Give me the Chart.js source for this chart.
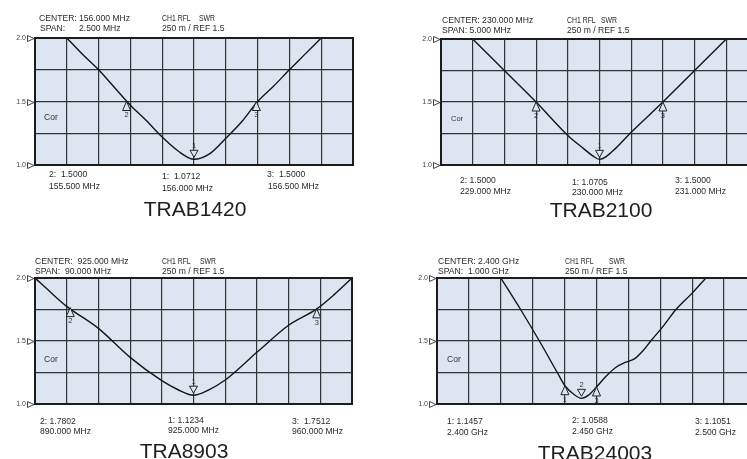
<!DOCTYPE html>
<html><head><meta charset="utf-8">
<script src="https://cdn.jsdelivr.net/npm/chart.js@4"></script>
<style>
html,body{margin:0;padding:0;background:#fff;overflow:hidden;width:747px;height:459px;}
body{position:relative;font-family:"Liberation Sans",Arial,Helvetica,sans-serif;color:#2a2a2a;}
canvas{position:absolute;}
.t{position:absolute;font-size:8.6px;line-height:10px;white-space:pre;z-index:2;}
.n{transform:scaleX(0.8);transform-origin:0 0;}
.c{position:absolute;font-size:8.6px;line-height:10px;white-space:pre;z-index:2;color:#333;}
.title{position:absolute;font-size:21px;line-height:21px;white-space:pre;transform:translateX(-50%);color:#1e1e1e;z-index:2;}
</style></head><body>

<!-- TRAB1420 -->
<div class="t" style="left:39px;top:13px">CENTER:</div><div class="t" style="left:79px;top:13px">156.000 MHz</div>
<div class="t" style="left:40px;top:23px">SPAN:</div><div class="t" style="left:79px;top:23px">2.500 MHz</div>
<div class="t n" style="left:162px;top:13px">CH1 RFL</div><div class="t n" style="left:199px;top:13px">SWR</div>
<div class="t" style="left:162px;top:23px">250 m / REF 1.5</div>
<div class="t" style="left:49px;top:169px">2:  1.5000</div><div class="t" style="left:49px;top:181px">155.500 MHz</div>
<div class="t" style="left:162px;top:171px">1:  1.0712</div><div class="t" style="left:162px;top:183px">156.000 MHz</div>
<div class="t" style="left:267px;top:169px">3:  1.5000</div><div class="t" style="left:268px;top:181px">156.500 MHz</div>
<div class="c" style="left:44px;top:112px">Cor</div>
<div class="title" style="left:195px;top:198px">TRAB1420</div>

<!-- TRAB2100 -->
<div class="t" style="left:442px;top:15px">CENTER: 230.000 MHz</div>
<div class="t" style="left:442px;top:25px">SPAN: 5.000 MHz</div>
<div class="t n" style="left:567px;top:15px">CH1 RFL</div><div class="t n" style="left:601px;top:15px">SWR</div>
<div class="t" style="left:567px;top:25px">250 m / REF 1.5</div>
<div class="t" style="left:460px;top:175px">2: 1.5000</div><div class="t" style="left:460px;top:186px">229.000 MHz</div>
<div class="t" style="left:572px;top:177px">1: 1.0705</div><div class="t" style="left:572px;top:187px">230.000 MHz</div>
<div class="t" style="left:675px;top:175px">3: 1.5000</div><div class="t" style="left:675px;top:186px">231.000 MHz</div>
<div class="c" style="left:451px;top:114px;font-size:7.5px">Cor</div>
<div class="title" style="left:601px;top:199px">TRAB2100</div>

<!-- TRA8903 -->
<div class="t" style="left:35px;top:256px">CENTER:  925.000 MHz</div>
<div class="t" style="left:35px;top:266px">SPAN:  90.000 MHz</div>
<div class="t n" style="left:162px;top:256px">CH1 RFL</div><div class="t n" style="left:200px;top:256px">SWR</div>
<div class="t" style="left:162px;top:266px">250 m / REF 1.5</div>
<div class="t" style="left:40px;top:416px">2: 1.7802</div><div class="t" style="left:40px;top:426px">890.000 MHz</div>
<div class="t" style="left:168px;top:415px">1: 1.1234</div><div class="t" style="left:168px;top:425px">925.000 MHz</div>
<div class="t" style="left:292px;top:416px">3:  1.7512</div><div class="t" style="left:292px;top:426px">960.000 MHz</div>
<div class="c" style="left:44px;top:354px">Cor</div>
<div class="title" style="left:184px;top:440px">TRA8903</div>

<!-- TRAB24003 -->
<div class="t" style="left:438px;top:256px">CENTER: 2.400 GHz</div>
<div class="t" style="left:438px;top:266px">SPAN:  1.000 GHz</div>
<div class="t n" style="left:565px;top:256px">CH1 RFL</div><div class="t n" style="left:609px;top:256px">SWR</div>
<div class="t" style="left:565px;top:266px">250 m / REF 1.5</div>
<div class="t" style="left:447px;top:416px">1: 1.1457</div><div class="t" style="left:447px;top:427px">2.400 GHz</div>
<div class="t" style="left:572px;top:415px">2: 1.0588</div><div class="t" style="left:572px;top:426px">2.450 GHz</div>
<div class="t" style="left:695px;top:416px">3: 1.1051</div><div class="t" style="left:695px;top:427px">2.500 GHz</div>
<div class="c" style="left:447px;top:354px">Cor</div>
<div class="title" style="left:595px;top:442px">TRAB24003</div>

<script>
// ---------- DATA ----------
const yTickValues = [1.0, 1.5, 2.0];
const yTickLabels = ['1.0', '1.5', '2.0'];

// TRAB1420 (MHz)
const trab1420Freq = [155.0, 155.125, 155.25, 155.375, 155.5, 155.625, 155.75, 155.875, 156.0, 156.125, 156.25, 156.375, 156.5, 156.625, 156.75, 156.875, 157.0];
const trab1420Swr  = [2.0, 1.87, 1.75, 1.61, 1.47, 1.35, 1.22, 1.11, 1.045, 1.09, 1.21, 1.34, 1.5, 1.62, 1.75, 1.875, 2.0];
const trab1420Span = [154.75, 157.25, 0.25];
const trab1420MarkerFreq = [155.47, 156.0, 156.49];
const trab1420MarkerSwr  = [1.5, 1.045, 1.5];
const trab1420MarkerNum  = ['2', '1', '3'];
const trab1420MarkerDir  = ['up', 'down', 'up'];

// TRAB2100 (MHz)
const trab2100Freq = [228.0, 228.5, 229.0, 229.5, 229.75, 229.9, 230.0, 230.1, 230.25, 230.5, 231.0, 231.5, 232.0];
const trab2100Swr  = [2.0, 1.75, 1.5, 1.235, 1.13, 1.07, 1.045, 1.065, 1.13, 1.26, 1.5, 1.75, 2.0];
const trab2100Span = [227.5, 232.5, 0.5];
const trab2100MarkerFreq = [229.0, 230.0, 231.0];
const trab2100MarkerSwr  = [1.5, 1.045, 1.5];
const trab2100MarkerNum  = ['2', '1', '3'];
const trab2100MarkerDir  = ['up', 'down', 'up'];

// TRA8903 (MHz)
const tra8903Freq = [880, 884.5, 889, 898, 907, 916, 920.5, 925, 929.5, 934, 943, 952, 960, 965, 970];
const tra8903Swr  = [2.0, 1.885, 1.775, 1.6, 1.37, 1.185, 1.115, 1.07, 1.115, 1.19, 1.41, 1.625, 1.755, 1.87, 2.0];
const tra8903Span = [880, 970, 9];
const tra8903MarkerFreq = [890, 925, 960];
const tra8903MarkerSwr  = [1.765, 1.07, 1.755];
const tra8903MarkerNum  = ['2', '1', '3'];
const tra8903MarkerDir  = ['up', 'down', 'up'];

// TRAB24003 (GHz)
const trab24003Freq = [2.1, 2.162, 2.221, 2.277, 2.301, 2.33, 2.353, 2.375, 2.4, 2.43, 2.46, 2.49, 2.52, 2.545, 2.57, 2.61, 2.649, 2.7, 2.743];
const trab24003Swr  = [2.0, 1.75, 1.5, 1.25, 1.145, 1.075, 1.045, 1.07, 1.135, 1.22, 1.29, 1.33, 1.36, 1.42, 1.5, 1.62, 1.75, 1.88, 2.0];
const trab24003Span = [1.9, 2.9, 0.1];
const trab24003MarkerFreq = [2.301, 2.353, 2.4];
const trab24003MarkerSwr  = [1.145, 1.045, 1.135];
const trab24003MarkerNum  = ['1', '2', '3'];
const trab24003MarkerDir  = ['up', 'down', 'up'];

// ---------- LAYOUT / STYLE ----------
const PLOT_BG = '#dde6f0';
const GRID = '#333333';
const M = 24;
const panels = [
  {left: 35,  top: 38,  w: 318, h: 127, freq: trab1420Freq, swr: trab1420Swr, span: trab1420Span, mf: trab1420MarkerFreq, ms: trab1420MarkerSwr, mn: trab1420MarkerNum, md: trab1420MarkerDir},
  {left: 441, top: 39,  w: 317, h: 126, freq: trab2100Freq, swr: trab2100Swr, span: trab2100Span, mf: trab2100MarkerFreq, ms: trab2100MarkerSwr, mn: trab2100MarkerNum, md: trab2100MarkerDir},
  {left: 35,  top: 278, w: 317, h: 126, freq: tra8903Freq, swr: tra8903Swr, span: tra8903Span, mf: tra8903MarkerFreq, ms: tra8903MarkerSwr, mn: tra8903MarkerNum, md: tra8903MarkerDir},
  {left: 437, top: 278, w: 319, h: 126, freq: trab24003Freq, swr: trab24003Swr, span: trab24003Span, mf: trab24003MarkerFreq, ms: trab24003MarkerSwr, mn: trab24003MarkerNum, md: trab24003MarkerDir}
];

const vnaPlugin = {
  id: 'vna',
  beforeDraw(chart) {
    const a = chart.chartArea, ctx = chart.ctx;
    ctx.save();
    ctx.fillStyle = PLOT_BG;
    ctx.fillRect(a.left, a.top, a.right - a.left, a.bottom - a.top);
    ctx.restore();
  },
  afterDatasetsDraw(chart, args, opts) {
    const a = chart.chartArea, ctx = chart.ctx;
    const xs = chart.scales.x, ys = chart.scales.y;
    ctx.save();
    ctx.strokeStyle = '#1c1c1c';
    ctx.lineWidth = 2;
    ctx.strokeRect(a.left, a.top, a.right - a.left, a.bottom - a.top);
    ctx.font = '7px "Liberation Sans", Arial, sans-serif';
    ctx.fillStyle = '#444';
    ctx.textAlign = 'right';
    ctx.textBaseline = 'middle';
    ctx.lineWidth = 1;
    ctx.strokeStyle = '#444';
    yTickValues.forEach((v, i) => {
      const py = Math.round(ys.getPixelForValue(v)) + 0.5;
      ctx.fillText(yTickLabels[i], a.left - 9, py);
      ctx.beginPath();
      ctx.moveTo(a.left - 7.5, py - 3);
      ctx.lineTo(a.left - 1, py);
      ctx.lineTo(a.left - 7.5, py + 3);
      ctx.closePath();
      ctx.fillStyle = '#fff';
      ctx.fill();
      ctx.stroke();
      ctx.fillStyle = '#444';
    });
    const p = opts.panel;
    ctx.font = '7.5px "Liberation Sans", Arial, sans-serif';
    ctx.textAlign = 'center';
    ctx.strokeStyle = '#222';
    ctx.lineWidth = 1;
    p.mf.forEach((f, i) => {
      const px = xs.getPixelForValue(f);
      const py = ys.getPixelForValue(p.ms[i]);
      ctx.beginPath();
      if (p.md[i] === 'up') {
        ctx.moveTo(px, py);
        ctx.lineTo(px + 4, py + 9);
        ctx.lineTo(px - 4, py + 9);
      } else {
        ctx.moveTo(px, py - 2);
        ctx.lineTo(px + 4, py - 9);
        ctx.lineTo(px - 4, py - 9);
      }
      ctx.closePath();
      ctx.fillStyle = PLOT_BG;
      ctx.fill();
      ctx.stroke();
      ctx.fillStyle = '#333';
      if (p.md[i] === 'up') {
        ctx.textBaseline = 'top';
        ctx.fillText(p.mn[i], px, py + 10);
      } else {
        ctx.textBaseline = 'bottom';
        ctx.fillText(p.mn[i], px, py - 9.5);
      }
    });
    ctx.restore();
  }
};

panels.forEach(p => {
  const cv = document.createElement('canvas');
  cv.width = p.w + 2 * M;
  cv.height = p.h + 2 * M;
  cv.style.left = (p.left - M) + 'px';
  cv.style.top = (p.top - M) + 'px';
  document.body.insertBefore(cv, document.body.firstChild);
  const gridOpts = {color: GRID, lineWidth: 1.2, drawTicks: false};
  new Chart(cv, {
    type: 'line',
    data: {
      datasets: [{
        data: p.freq.map((f, i) => ({x: f, y: p.swr[i]})),
        borderColor: '#151515',
        borderWidth: 1.4,
        pointRadius: 0,
        cubicInterpolationMode: 'monotone',
        fill: false
      }]
    },
    options: {
      responsive: false,
      animation: false,
      devicePixelRatio: 1,
      layout: {padding: M},
      plugins: {legend: {display: false}, tooltip: {enabled: false}, vna: {panel: p}},
      scales: {
        x: {type: 'linear', min: p.span[0], max: p.span[1],
            ticks: {display: false, stepSize: p.span[2]},
            grid: gridOpts, border: {display: false}},
        y: {type: 'linear', min: 1.0, max: 2.0,
            ticks: {display: false, stepSize: 0.25},
            grid: gridOpts, border: {display: false}}
      }
    },
    plugins: [vnaPlugin]
  });
});
</script>
</body></html>
